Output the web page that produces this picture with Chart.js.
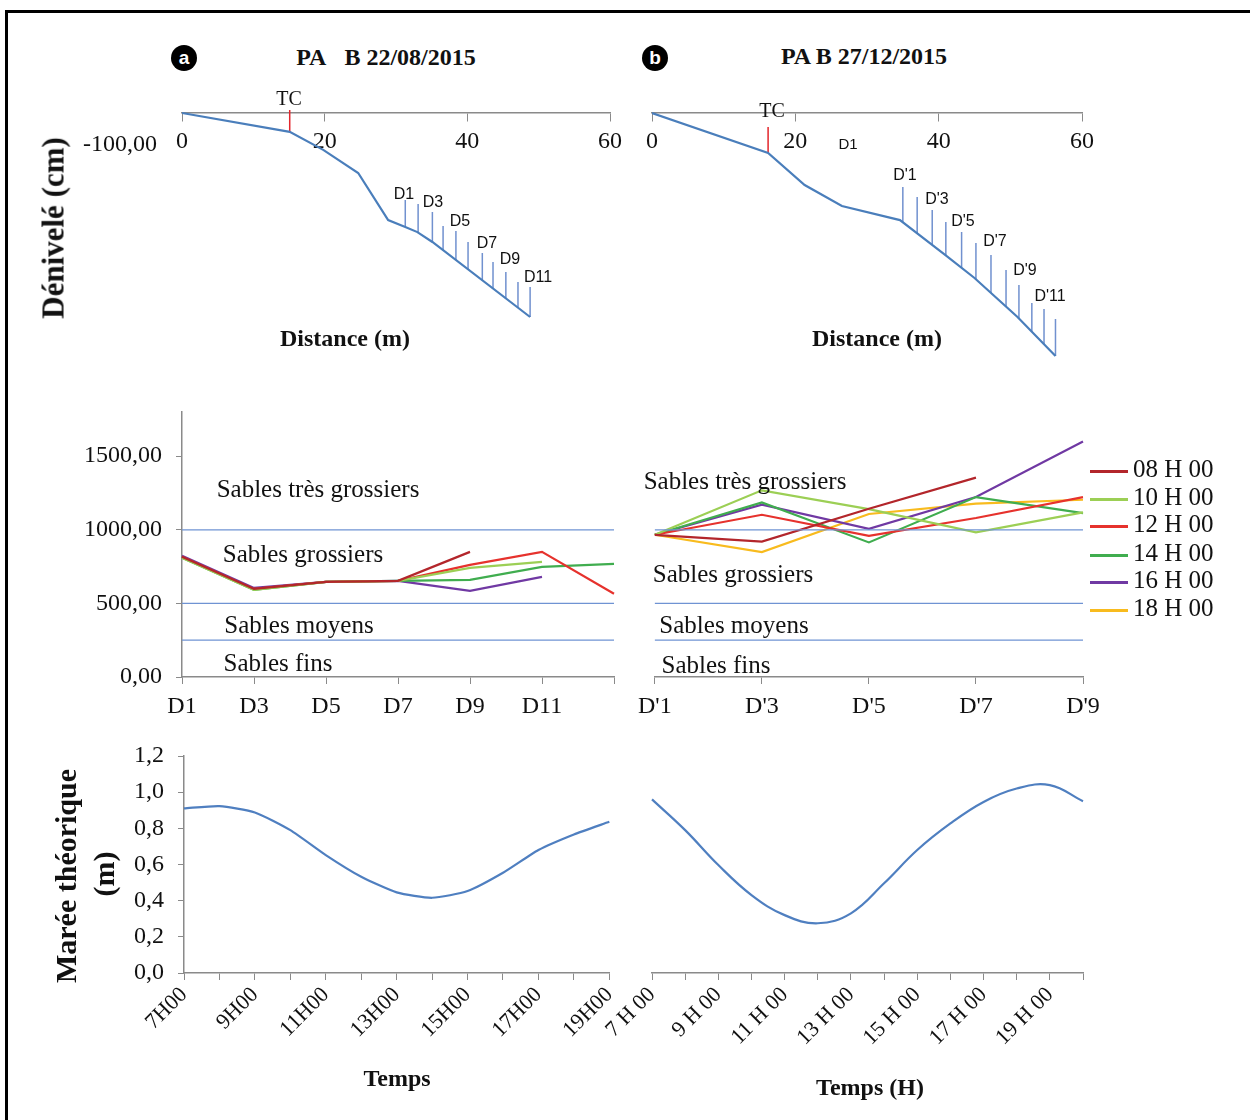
<!DOCTYPE html>
<html>
<head>
<meta charset="utf-8">
<script src="https://cdn.jsdelivr.net/npm/chart.js@4.4.0/dist/chart.umd.min.js"></script>
<style>
body { margin: 0; background: #fff; }
#page { position: relative; width: 1250px; height: 1120px; overflow: hidden; background: #fff;
        font-family: "Liberation Serif", "Times New Roman", serif; color: #111; }
#cadre { position: absolute; left: 5px; top: 10px; width: 1300px; height: 1200px;
         border-left: 3px solid #000; border-top: 3px solid #000; }
canvas { position: absolute; }
.t { position: absolute; white-space: nowrap; line-height: 1; transform: translate(-50%, -50%); }
.b { font-weight: bold; }
.rot { transform: translate(-50%, -50%) rotate(-90deg); }
.sans { font-family: "Liberation Sans", "DejaVu Sans", sans-serif; font-size: 16px; }
.pastille { position: absolute; width: 26px; height: 26px; border-radius: 13px; background: #000; color: #fff;
            font: bold 19px "Liberation Sans", sans-serif; text-align: center; line-height: 25px; }
.leg { position: absolute; font-size: 25px; line-height: 1; }
.leg span { display: inline-block; width: 38px; height: 3px; vertical-align: middle; margin-right: 5px; }
</style>
</head>
<body>
<div id="page">
  <div id="cadre"></div>

  <canvas id="profilA" width="570" height="280" style="left:60px;top:90px"></canvas>
  <canvas id="profilB" width="480" height="280" style="left:630px;top:90px"></canvas>
  <canvas id="grainA" width="570" height="330" style="left:60px;top:400px"></canvas>
  <canvas id="grainB" width="480" height="330" style="left:630px;top:400px"></canvas>
  <canvas id="mareeA" width="570" height="380" style="left:60px;top:740px"></canvas>
  <canvas id="mareeB" width="520" height="380" style="left:590px;top:740px"></canvas>

  <div class="pastille" style="left:171px;top:45px">a</div>
  <div class="pastille" style="left:642px;top:45px">b</div>
  <div class="t b" style="left:386px;top:57px;font-size:24px">PA&nbsp;&nbsp; B 22/08/2015</div>
  <div class="t b" style="left:864px;top:56px;font-size:24px">PA B 27/12/2015</div>

  <div class="t b rot" style="left:53px;top:228px;font-size:31px">Dénivelé (cm)</div>
  <div class="t" style="left:120px;top:143px;font-size:24px">-100,00</div>
  <div class="t b" style="left:345px;top:338px;font-size:24px">Distance (m)</div>
  <div class="t b" style="left:877px;top:338px;font-size:24px">Distance (m)</div>

  <div class="t" style="left:289px;top:98px;font-size:20px">TC</div>
  <div class="t" style="left:772px;top:110px;font-size:20px">TC</div>
  <div class="t sans" style="left:848px;top:143px;font-size:15px">D1</div>

  <div class="t sans" style="left:404px;top:194px">D1</div>
  <div class="t sans" style="left:433px;top:202px">D3</div>
  <div class="t sans" style="left:460px;top:221px">D5</div>
  <div class="t sans" style="left:487px;top:243px">D7</div>
  <div class="t sans" style="left:510px;top:259px">D9</div>
  <div class="t sans" style="left:538px;top:277px">D11</div>

  <div class="t sans" style="left:905px;top:175px">D'1</div>
  <div class="t sans" style="left:937px;top:199px">D'3</div>
  <div class="t sans" style="left:963px;top:221px">D'5</div>
  <div class="t sans" style="left:995px;top:241px">D'7</div>
  <div class="t sans" style="left:1025px;top:270px">D'9</div>
  <div class="t sans" style="left:1050px;top:296px">D'11</div>

  <div class="t" style="left:318px;top:488px;font-size:25px">Sables très grossiers</div>
  <div class="t" style="left:303px;top:553px;font-size:25px">Sables grossiers</div>
  <div class="t" style="left:299px;top:624px;font-size:25px">Sables moyens</div>
  <div class="t" style="left:278px;top:662px;font-size:25px">Sables fins</div>

  <div class="t" style="left:745px;top:480px;font-size:25px">Sables très grossiers</div>
  <div class="t" style="left:733px;top:573px;font-size:25px">Sables grossiers</div>
  <div class="t" style="left:734px;top:624px;font-size:25px">Sables moyens</div>
  <div class="t" style="left:716px;top:664px;font-size:25px">Sables fins</div>

  <div id="legende"></div>

  <div class="t b rot" style="left:66px;top:876px;font-size:30px">Marée théorique</div>
  <div class="t b rot" style="left:104px;top:874px;font-size:30px">(m)</div>
  <div class="t b" style="left:397px;top:1078px;font-size:24px">Temps</div>
  <div class="t b" style="left:870px;top:1087px;font-size:24px">Temps (H)</div>
</div>

<script>
// Profils de plage (distance en m, denivele en cm)
var profilA_x = [0, 15.1, 19.8, 24.7, 28.9, 31.3, 33.0, 35.1, 48.8];
var profilA_y = [0, -63, -123, -200, -357, -380, -397, -430, -680];
var piquetsA_x = [31.3, 33.1, 35.1, 36.6, 38.4, 40.1, 42.1, 43.6, 45.4, 47.1, 48.8];
var piquetsA_haut = [-290, -303, -330, -377, -393, -430, -467, -497, -530, -563, -580];
var tcA = [15.1, 10, -63];

var profilB_x = [0, 16.2, 21.3, 26.5, 34.6, 40.9, 45.0, 51.0, 56.3];
var profilB_y = [0, -133, -240, -310, -357, -473, -550, -680, -810];
var piquetsB_x = [35.0, 37.0, 39.1, 41.0, 43.2, 45.2, 47.3, 49.4, 51.2, 53.0, 54.7, 56.3];
var piquetsB_haut = [-247, -280, -323, -363, -397, -433, -473, -523, -573, -633, -653, -687];
var tcB = [16.2, -47, -133];

// Granulometrie (micrometres)
var heures = ['08 H 00', '10 H 00', '12 H 00', '14 H 00', '16 H 00', '18 H 00'];
var couleurs = ['#b3262b', '#9ccf55', '#e6322d', '#40ad4f', '#7039a3', '#f8bb1e'];
var seuils = [1000, 500, 250];
var graduationsGrain = [0, 500, 1000, 1500];

var stationsA = ['D1', 'D3', 'D5', 'D7', 'D9', 'D11', ''];
var grainA_08 = [816, 598, 646, 653, 850, null, null];
var grainA_10 = [810, 592, 646, 653, 741, 782, null];
var grainA_12 = [816, 598, 646, 653, 762, 850, 565];
var grainA_14 = [810, 592, 646, 653, 660, 748, 769];
var grainA_16 = [823, 605, 646, 653, 585, 680, null];
var grainA_18 = [null, null, null, null, null, null, null];

var stationsB = ["D'1", "D'3", "D'5", "D'7", "D'9"];
var grainB_08 = [966, 920, 1143, 1354, null];
var grainB_10 = [966, 1268, 1140, 982, 1118];
var grainB_12 = [966, 1102, 959, 1080, 1222];
var grainB_14 = [966, 1186, 914, 1222, 1113];
var grainB_16 = [966, 1170, 1007, 1222, 1600];
var grainB_18 = [966, 848, 1107, 1177, 1204];

// Maree theorique (m)
var heuresA = ['7H00', '8H00', '9H00', '10H00', '11H00', '12H00', '13H00', '14H00', '15H00', '16H00', '17H00', '18H00', '19H00'];
var mareeA = [0.91, 0.923, 0.888, 0.79, 0.652, 0.532, 0.446, 0.416, 0.453, 0.554, 0.68, 0.766, 0.836];
var heuresB = ['7 H 00', '8 H 00', '9 H 00', '10 H 00', '11 H 00', '12 H 00', '13 H 00', '14 H 00', '15 H 00', '16 H 00', '17 H 00', '18 H 00', '19 H 00', '20 H 00'];
var mareeB = [0.96, 0.79, 0.597, 0.431, 0.32, 0.275, 0.33, 0.496, 0.68, 0.827, 0.946, 1.02, 1.039, 0.95];


Chart.defaults.font.family = '"Liberation Serif", "Times New Roman", serif';
Chart.defaults.font.size = 24;
Chart.defaults.color = '#111';
Chart.defaults.animation = false;
Chart.defaults.responsive = false;
Chart.defaults.plugins.legend.display = false;
Chart.defaults.plugins.tooltip.enabled = false;
Chart.defaults.elements.point.radius = 0;

var gris = '#8a8a8a';

function virgule(v, d) {
    return v.toFixed(d).replace('.', ',');
}

// largeur fixe de l'axe Y, sans marge ajoutee pour les etiquettes
function largeurY(avecY, w) {
    return function (s) {
        s.width = avecY ? w : 0;
        s.paddingTop = 0;
        s.paddingBottom = 0;
    };
}

// altitude du sol sous un piquet (interpolation sur le profil)
function altitudeSol(px, py, x) {
    for (var i = 1; i < px.length; i++) {
        if (x <= px[i]) {
            var t = (x - px[i - 1]) / (px[i] - px[i - 1]);
            return py[i - 1] + t * (py[i] - py[i - 1]);
        }
    }
    return py[py.length - 1];
}

function chartProfil(id, px, py, sx, sh, tc, padG, padD) {
    var profil = px.map(function (x, i) { return {x: x, y: py[i]}; });
    var piquets = [];
    sx.forEach(function (x, i) {
        piquets.push({x: x, y: sh[i]}, {x: x, y: altitudeSol(px, py, x)}, {x: x, y: null});
    });
    return new Chart(document.getElementById(id), {
        type: 'line',
        data: {
            datasets: [
                {data: profil, borderColor: '#4a7ebb', borderWidth: 2.2, tension: 0},
                {data: piquets, borderColor: '#7191cf', borderWidth: 1.5, spanGaps: false},
                {data: [{x: tc[0], y: tc[1]}, {x: tc[0], y: tc[2]}], borderColor: '#e3262c', borderWidth: 1.5}
            ]
        },
        options: {
            layout: {autoPadding: false, padding: {top: 17, right: padD, bottom: 8, left: padG}},
            scales: {
                x: {
                    type: 'linear', min: 0, max: 60, position: {y: 0},
                    ticks: {stepSize: 20, padding: 6},
                    grid: {drawOnChartArea: false, tickLength: 8, color: gris},
                    border: {color: gris, width: 1.5}
                },
                y: {display: false, min: -830, max: 20}
            }
        }
    });
}

chartProfil('profilA', profilA_x, profilA_y, piquetsA_x, piquetsA_haut, tcA, 122, 20);
chartProfil('profilB', profilB_x, profilB_y, piquetsB_x, piquetsB_haut, tcB, 22, 28);


function chartGrain(id, stations, series, avecY, padG, padD) {
    var datasets = seuils.map(function (s) {
        return {data: [{x: stations[0], y: s}, {x: stations[stations.length - 1], y: s}],
                borderColor: '#6f93d3', borderWidth: 1.3};
    });
    series.forEach(function (serie, i) {
        datasets.push({label: heures[i], data: serie, borderColor: couleurs[i], borderWidth: 2.2,
                       tension: 0, spanGaps: false});
    });
    return new Chart(document.getElementById(id), {
        type: 'line',
        data: {labels: stations, datasets: datasets},
        options: {
            layout: {autoPadding: false, padding: {top: 12, right: padD, bottom: 0, left: padG}},
            scales: {
                x: {
                    ticks: {autoSkip: false, maxRotation: 0, padding: 8},
                    grid: {drawOnChartArea: false, tickLength: 7, color: gris},
                    border: {color: gris, width: 1.5},
                    afterFit: function (s) { s.height = 53; }
                },
                y: {
                    display: avecY, min: 0, max: 1800,
                    afterBuildTicks: function (s) {
                        s.ticks = graduationsGrain.map(function (v) { return {value: v}; });
                    },
                    ticks: {autoSkip: false, padding: 14, callback: function (v) { return virgule(v, 2); }},
                    grid: {drawOnChartArea: false, tickLength: 6, color: gris},
                    border: {color: gris, width: 1.5},
                    afterFit: largeurY(avecY, 122)
                }
            }
        }
    });
}

chartGrain('grainA', stationsA, [grainA_08, grainA_10, grainA_12, grainA_14, grainA_16, grainA_18], true, 0, 16);
chartGrain('grainB', stationsB, [grainB_08, grainB_10, grainB_12, grainB_14, grainB_16, grainB_18], false, 22, 27);

// legende des heures
var leg = document.getElementById('legende');
var legY = [468, 496, 523, 552, 579, 607];
heures.forEach(function (h, i) {
    var d = document.createElement('div');
    d.className = 'leg';
    d.style.left = '1090px';
    d.style.top = (legY[i] - 12) + 'px';
    d.innerHTML = '<span style="background:' + couleurs[i] + '"></span>' + h;
    leg.appendChild(d);
});


function chartMaree(id, labels, valeurs, tension, avecY, padG, padD) {
    return new Chart(document.getElementById(id), {
        type: 'line',
        data: {
            labels: labels,
            datasets: [{data: valeurs, borderColor: '#4f7fc0', borderWidth: 2.2, tension: tension}]
        },
        options: {
            layout: {autoPadding: false, padding: {top: 16, right: padD, bottom: 0, left: padG}},
            scales: {
                x: {
                    ticks: {
                        autoSkip: false, minRotation: 45, maxRotation: 45, padding: 2,
                        font: {size: 22},
                        callback: function (v, i) { return i % 2 === 0 ? labels[i] : ''; }
                    },
                    grid: {drawOnChartArea: false, tickLength: 7, color: gris},
                    border: {color: gris, width: 1.5},
                    afterFit: function (s) { s.height = 147; }
                },
                y: {
                    display: avecY, min: 0, max: 1.2,
                    ticks: {stepSize: 0.2, autoSkip: false, padding: 14, callback: function (v) { return virgule(v, 1); }},
                    grid: {drawOnChartArea: false, tickLength: 6, color: gris},
                    border: {color: gris, width: 1.5},
                    afterFit: largeurY(avecY, 124)
                }
            }
        }
    });
}

chartMaree('mareeA', heuresA, mareeA, 0.2, true, 0, 17);
chartMaree('mareeB', heuresB, mareeB, 0.4, false, 62, 27);
</script>
</body>
</html>
